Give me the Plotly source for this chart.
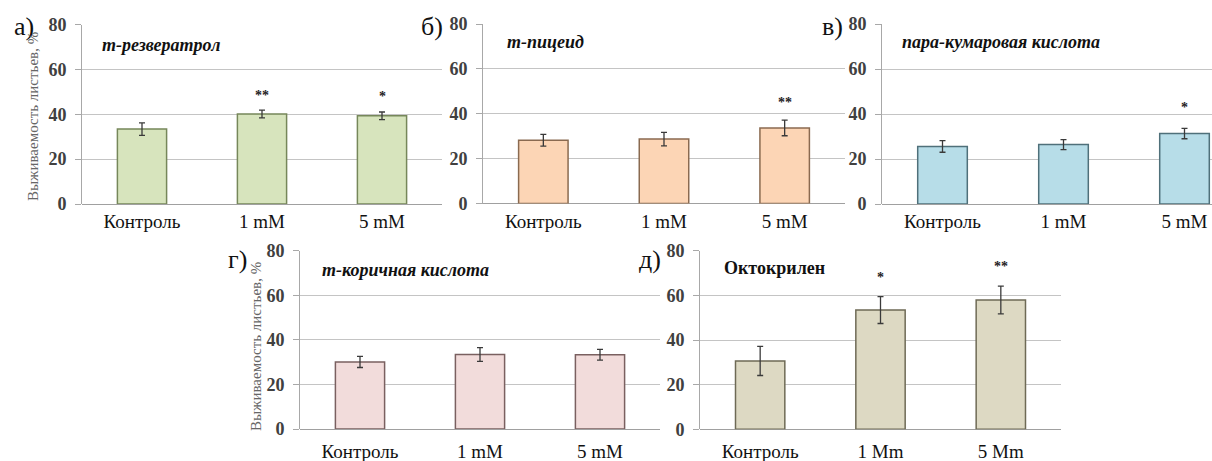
import plotly.graph_objects as go

# ---- data ----
categories_mM = ["Контроль", "1 mM", "5 mM"]
categories_Mm = ["Контроль", "1 Mm", "5 Mm"]

resveratrol_vals = [33.4, 40.1, 39.3]
resveratrol_err = [2.8, 1.7, 1.7]
resveratrol_sig = ["", "**", "*"]

piceid_vals = [28.2, 28.7, 33.7]
piceid_err = [2.6, 3.0, 3.5]
piceid_sig = ["", "", "**"]

coumaric_vals = [25.6, 26.4, 31.3]
coumaric_err = [2.6, 2.2, 2.3]
coumaric_sig = ["", "", "*"]

cinnamic_vals = [30.1, 33.4, 33.3]
cinnamic_err = [2.5, 3.1, 2.4]
cinnamic_sig = ["", "", ""]

octocrylene_vals = [30.6, 53.4, 57.9]
octocrylene_err = [6.5, 6.0, 6.2]
octocrylene_sig = ["", "*", "**"]

sig_y = {
    "a": [0, 48.3, 48.0],
    "b": [0, 0, 45.2],
    "c": [0, 0, 42.7],
    "d": [0, 0, 0],
    "e": [0, 68.0, 72.8],
}

titles = ["т-резвератрол", "т-пицеид", "пара-кумаровая кислота",
          "т-коричная кислота", "Октокрилен"]
panel_labels = ["а)", "б)", "в)", "г)", "д)"]
y_title = "Выживаемость листьев, %"

W, H = 1212, 461
FONT = "Liberation Serif, Times New Roman, DejaVu Serif, serif"

panels = [
    ("a", categories_mM, resveratrol_vals, resveratrol_err, resveratrol_sig,
     "#d7e4bd", "#76875a", (82, 442), (24.5, 204), 2.5),
    ("b", categories_mM, piceid_vals, piceid_err, piceid_sig,
     "#fcd5b5", "#8a6a50", (483, 845), (24, 203.5), 2.5),
    ("c", categories_mM, coumaric_vals, coumaric_err, coumaric_sig,
     "#b7dde8", "#4f707a", (882, 1212), (24, 204), -0.5 + (1212 - 882) / 121.0),
    ("d", categories_mM, cinnamic_vals, cinnamic_err, cinnamic_sig,
     "#f2dcdb", "#7a6060", (300, 660), (250.7, 429), 2.5),
    ("e", categories_Mm, octocrylene_vals, octocrylene_err, octocrylene_sig,
     "#ddd9c3", "#6e6a55", (700, 1061), (250.7, 429.3), 2.5),
]

fig = go.Figure()
layout = dict(
    width=W, height=H,
    margin=dict(l=0, r=0, t=0, b=0, autoexpand=False),
    paper_bgcolor="white", plot_bgcolor="white",
    showlegend=False,
    font=dict(family=FONT),
)
annotations = []

for i, (key, cats, vals, err, sig, fill, line, xr, yr, xmax) in enumerate(panels):
    n = i + 1
    xa = "x" if n == 1 else f"x{n}"
    ya = "y" if n == 1 else f"y{n}"
    xkey = "xaxis" if n == 1 else f"xaxis{n}"
    ykey = "yaxis" if n == 1 else f"yaxis{n}"

    fig.add_trace(go.Bar(
        x=cats, y=vals, width=0.41,
        marker=dict(color=fill, line=dict(color=line, width=1.5)),
        error_y=dict(type="data", array=err, visible=True,
                     color="#3a3a3a", thickness=1.3, width=3),
        xaxis=xa, yaxis=ya,
    ))

    layout[xkey] = dict(
        domain=[xr[0] / W, min(xr[1] / W, 1.0)],
        anchor=ya, type="category", categoryorder="array", categoryarray=cats,
        range=[-0.5, xmax], showgrid=False, zeroline=False,
        showline=False, ticks="", automargin=False,
        ticklabelstandoff=(4 if n <= 3 else 9),
        tickfont=dict(family=FONT, size=19, color="#111111"),
        fixedrange=True,
    )
    layout[ykey] = dict(
        domain=[1 - yr[1] / H, 1 - yr[0] / H],
        anchor=xa, range=[0, 80], dtick=20, automargin=False,
        showgrid=True, gridcolor="#c4c4c4", gridwidth=1,
        zeroline=True, zerolinecolor="#a0a0a0", zerolinewidth=1,
        showline=True, linecolor="#a8a8a8", linewidth=1,
        ticks="outside", ticklen=6, tickcolor="#a8a8a8", ticklabelstandoff=5,
        tickfont=dict(family=FONT, size=18, color="#404040", weight="bold"),
        fixedrange=True,
    )

    for c, s, yv in zip(cats, sig, sig_y[key]):
        if s:
            annotations.append(dict(
                x=c, y=yv, xref=xa, yref=ya, text=s, showarrow=False,
                font=dict(family=FONT, size=14, color="#222222", weight="bold"),
                xanchor="center", yanchor="middle",
            ))

title_pos = [(100, 45), (505, 42), (900, 42), (320, 270), (722, 268)]
for t, (px, py), italic in zip(titles, title_pos, [True, True, True, True, False]):
    annotations.append(dict(
        x=px / W, y=1 - py / H, xref="paper", yref="paper", text=t,
        showarrow=False, xanchor="left", yanchor="middle",
        font=dict(family=FONT, size=18, color="#111111", weight="bold",
                  style="italic" if italic else "normal"),
    ))

label_pos = [(24, 27), (432, 26), (832, 26), (237, 259), (650, 259)]
for t, (px, py) in zip(panel_labels, label_pos):
    annotations.append(dict(
        x=px / W, y=1 - py / H, xref="paper", yref="paper", text=t,
        showarrow=False, xanchor="center", yanchor="middle",
        font=dict(family=FONT, size=26, color="#111111"),
    ))

for px, py in [(33, 117), (256, 347)]:
    annotations.append(dict(
        x=px / W, y=1 - py / H, xref="paper", yref="paper", text=y_title,
        showarrow=False, textangle=-90, xanchor="center", yanchor="middle",
        font=dict(family=FONT, size=15, color="#666666"),
    ))

layout["annotations"] = annotations
fig.update_layout(**layout)
fig.write_html(
    "out.html",
    config={"displayModeBar": False, "staticPlot": True},
    post_script="document.body.style.margin='0';document.body.style.overflow='hidden';",
)
